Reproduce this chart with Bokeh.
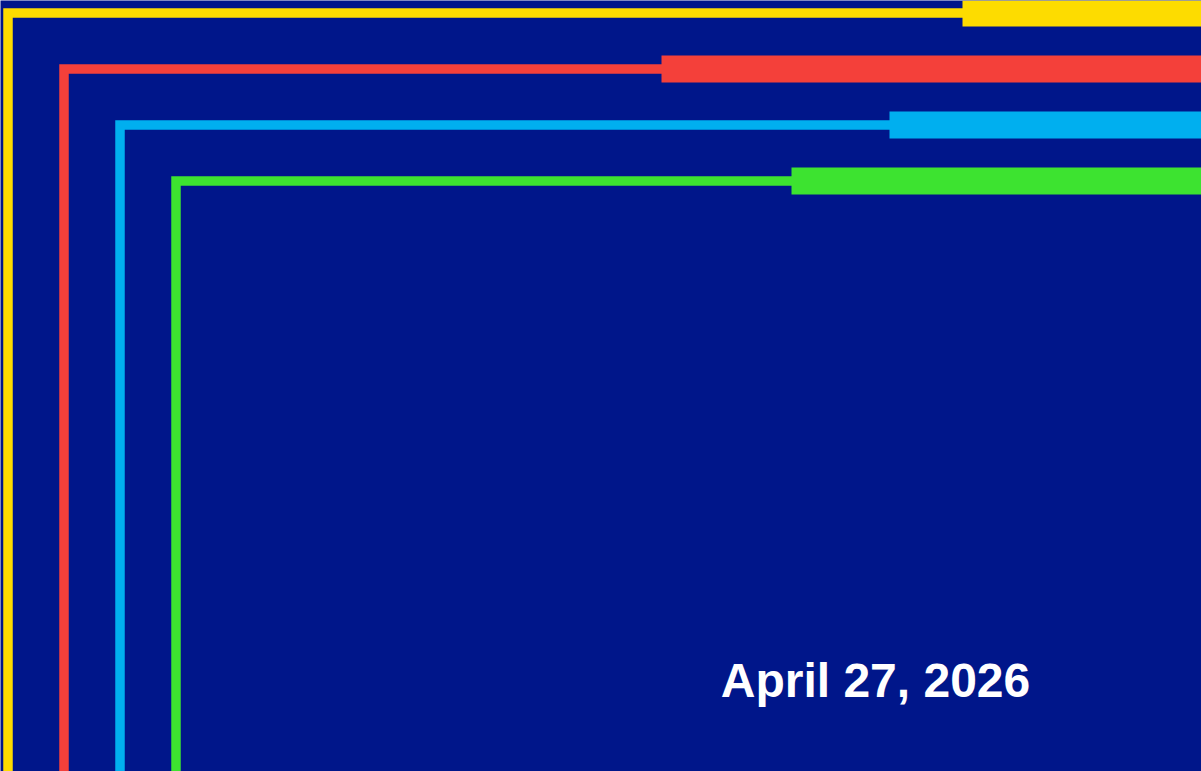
import re
from bokeh.plotting import figure
from bokeh.models import Range1d, ColumnDataSource
from bokeh.core.properties import value
from bokeh.embed import file_html
from bokeh.resources import INLINE

# ---- data ----
lanes = ["yellow", "red", "cyan", "green"]
colors = ["#FDDC00", "#F4403A", "#00AFEF", "#3DE330"]
bar_start = [962, 661, 889, 791]
date_label = ["April 27, 2026"]

W, H = 1201, 771
BG = "#00168A"

p = figure(width=W, height=H, output_backend="svg", toolbar_location=None,
           x_range=Range1d(0, W), y_range=Range1d(H, 0),
           min_border=0, min_border_left=0, min_border_right=0,
           min_border_top=0, min_border_bottom=0)
p.axis.visible = False
p.grid.visible = False
p.outline_line_color = None
p.background_fill_color = BG
p.border_fill_color = BG

step = 56
xs, ys, lc = [], [], []
for i, (c, s) in enumerate(zip(colors, bar_start)):
    xv = 7.5 + step * i
    yh = 12.5 + step * i
    xs.append([xv, xv, s + 2])
    ys.append([H + 20, yh, yh])
    lc.append(c)
p.multi_line(xs=xs, ys=ys, line_color=lc, line_width=9.5, line_join="miter")

src = ColumnDataSource(dict(
    left=bar_start,
    right=[W + 20] * len(bar_start),
    y=[12.5 + step * i for i in range(len(bar_start))],
    color=colors,
))
p.hbar(y="y", left="left", right="right", height=27, color="color",
       line_color=None, source=src)

p.text(x=[875], y=[680], text=date_label, text_color="white",
       text_font=value("Liberation Sans"), text_font_style="bold",
       text_font_size="48px", text_align="center", text_baseline="alphabetic")

html = file_html(p, INLINE)
html = re.sub(r"<body[^>]*>",
              '<body style="margin:0;padding:0;background:%s;overflow:hidden">' % BG,
              html, count=1)
open("out.html", "w").write(html)
